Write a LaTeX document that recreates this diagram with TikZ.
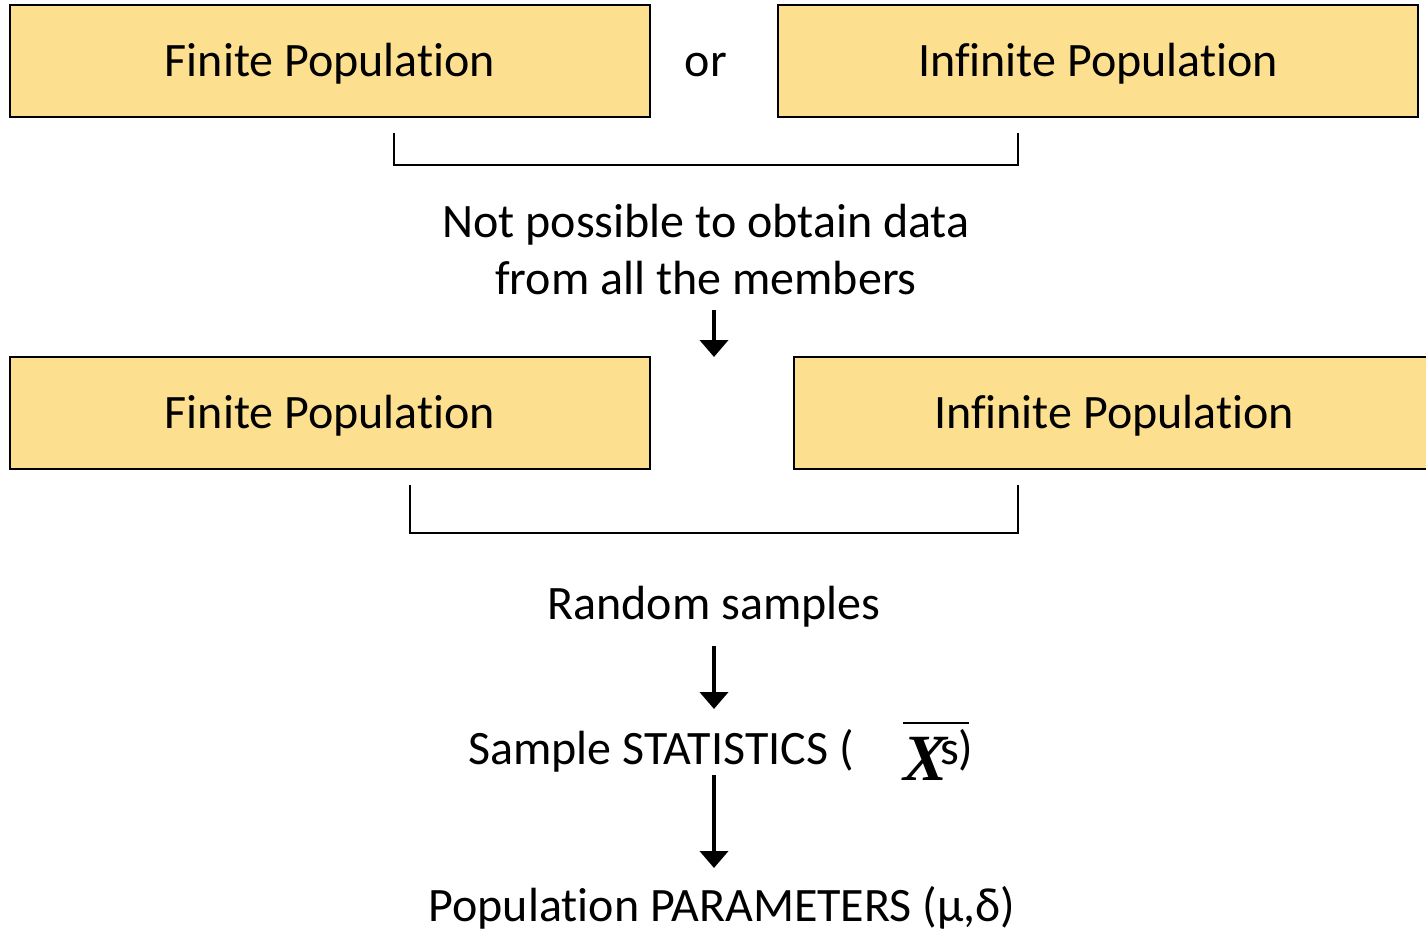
\documentclass[tikz,border=0pt]{standalone}
\usepackage{fontspec}
\setmainfont{Carlito}[Ligatures=NoCommon]
\newfontfamily\xfont{Liberation Serif}
\usetikzlibrary{arrows.meta}
\definecolor{popfill}{RGB}{253,224,143}
\tikzset{
  popbox/.style={draw=black, line width=2.5pt, fill=popfill},
  lbl/.style={font=\fontsize{48}{57}\selectfont, inner sep=0pt},
  bracket/.style={draw=black, line width=2pt},
  flow/.style={draw=black, line width=4pt, -{Triangle[width=28pt,length=17pt]}}
}
\begin{document}
\begin{tikzpicture}[x=1pt,y=-1pt]
\useasboundingbox (0,0) rectangle (1426,932);

% first row of populations
\draw[popbox] (10,5) rectangle (650,117);
\draw[popbox] (778,5) rectangle (1418,117);
\node[lbl, anchor=base] (fin1) at (330,76) {Finite Population};
\node[lbl, anchor=base] (or) at (706,76) {or};
\node[lbl, anchor=base] (inf1) at (1098,76) {Infinite Population};

% bracket joining the first row
\coordinate (b1l) at (394,133);
\coordinate (b1r) at (1018,133);
\draw[bracket] (b1l) |- (1018,165) -- (b1r);

\node[lbl, align=center] (nopos) at (706,250) {Not possible to obtain data\\from all the members};

% second row of populations
\coordinate (a1s) at (714,310);
\coordinate (a1e) at (714,357);
\draw[flow] (a1s) -- (a1e);
\draw[popbox] (10,357) rectangle (650,469);
\draw[popbox] (794,357) rectangle (1434,469);
\node[lbl, anchor=base] (fin2) at (330,428) {Finite Population};
\node[lbl, anchor=base] (inf2) at (1114,428) {Infinite Population};

% bracket joining the second row
\coordinate (b2l) at (410,485);
\coordinate (b2r) at (1018,485);
\draw[bracket] (b2l) |- (1018,533) -- (b2r);

\node[lbl, anchor=base] (rand) at (714,619) {Random samples};

\coordinate (a2s) at (714,646);
\coordinate (a2e) at (714,709);
\draw[flow] (a2s) -- (a2e);

% sample statistics with the mean symbol
\node[lbl, anchor=base west] (stat) at (468,764) {Sample STATISTICS (};
\node[font=\xfont\fontsize{66}{68}\selectfont\bfseries\itshape, inner sep=0pt, anchor=base west] (xbar) at (903,780) {X};
\draw[line width=2.5pt] (903,723) -- (969,723);
\node[lbl, anchor=base west] (sdev) at (940,764) {s)};

\coordinate (a3s) at (714,775);
\coordinate (a3e) at (714,868);
\draw[flow] (a3s) -- (a3e);

\node[lbl, anchor=base] (param) at (722,921) {Population PARAMETERS (μ,δ)};
\end{tikzpicture}
\end{document}
